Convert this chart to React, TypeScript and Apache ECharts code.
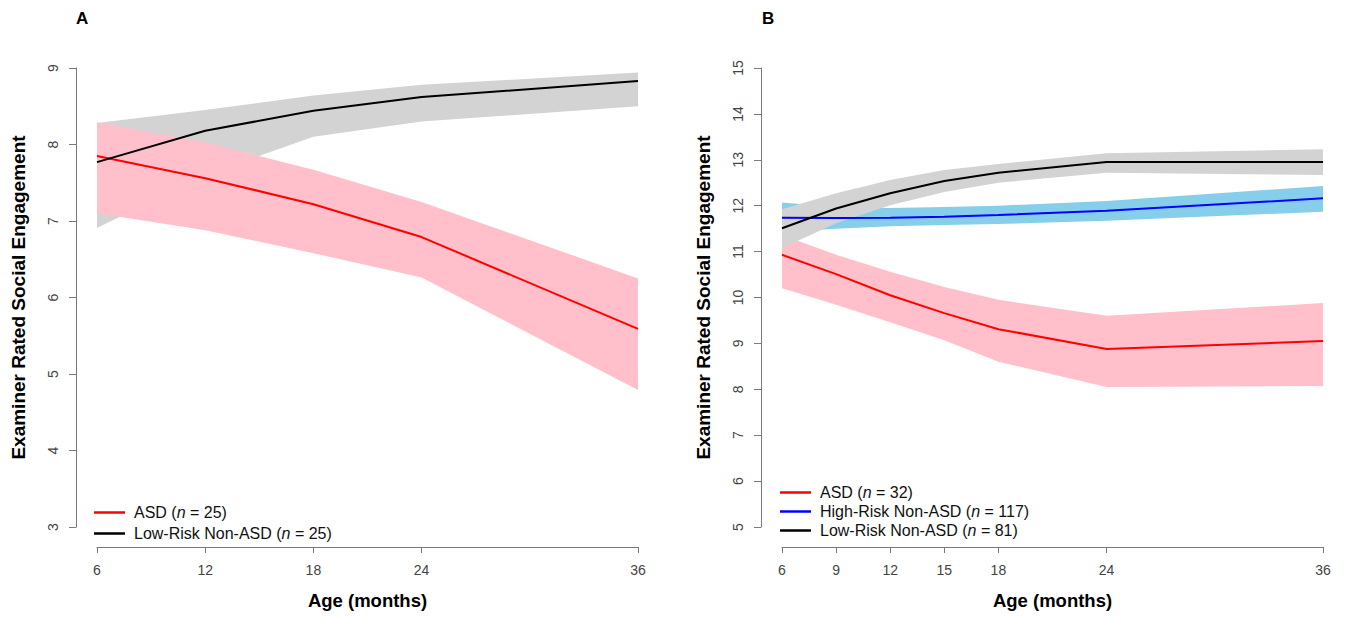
import React, { useEffect, useRef } from "react";
import * as echarts from "echarts";

// Panel A data
const xA = [6, 12, 18, 24, 36];
const asdA = [7.85, 7.56, 7.22, 6.79, 5.59];
const asdAUpper = [8.29, 8.03, 7.67, 7.25, 6.25];
const asdALower = [7.1, 6.88, 6.58, 6.26, 4.79];
const lrA = [7.77, 8.18, 8.44, 8.62, 8.83];
const lrAUpper = [8.28, 8.45, 8.64, 8.78, 8.94];
const lrALower = [6.91, 7.6, 8.1, 8.3, 8.5];
const xTicksA = [6, 12, 18, 24, 36];

// Panel B data
const xB = [6, 9, 12, 15, 18, 24, 36];
const asdB = [10.93, 10.51, 10.05, 9.66, 9.31, 8.88, 9.05];
const asdBUpper = [11.36, 10.93, 10.56, 10.23, 9.95, 9.6, 9.88];
const asdBLower = [10.2, 9.84, 9.46, 9.07, 8.6, 8.05, 8.07];
const hrB = [11.74, 11.73, 11.74, 11.76, 11.8, 11.89, 12.16];
const hrBUpper = [12.07, 11.97, 11.95, 11.97, 12.0, 12.1, 12.43];
const hrBLower = [11.42, 11.5, 11.55, 11.58, 11.6, 11.67, 11.87];
const lrB = [11.51, 11.94, 12.27, 12.54, 12.72, 12.95, 12.95];
const lrBUpper = [11.92, 12.27, 12.56, 12.78, 12.91, 13.14, 13.23];
const lrBLower = [11.08, 11.62, 12.01, 12.3, 12.5, 12.72, 12.67];
const xTicksB = [6, 9, 12, 15, 18, 24, 36];

const legendA = [
  { name: "ASD A", label: "ASD (", n: " = 25)" },
  { name: "LR A", label: "Low-Risk Non-ASD (", n: " = 25)" },
];
const legendB = [
  { name: "ASD B", label: "ASD (", n: " = 32)" },
  { name: "HR B", label: "High-Risk Non-ASD (", n: " = 117)" },
  { name: "LR B", label: "Low-Risk Non-ASD (", n: " = 81)" },
];

const FONT = "Liberation Sans, Arial, sans-serif";
const AXIS_COLOR = "#7a7a7a";
const LABEL_COLOR = "#444";

function band(xs: number[], lo: number[], hi: number[], color: string, idx: number) {
  return {
    type: "custom",
    xAxisIndex: idx,
    yAxisIndex: idx,
    silent: true,
    z: 2,
    data: [[xs[0], lo[0]]],
    renderItem: (_params: any, api: any) => {
      const pts: number[][] = [];
      xs.forEach((x, i) => pts.push(api.coord([x, hi[i]])));
      for (let i = xs.length - 1; i >= 0; i--) pts.push(api.coord([xs[i], lo[i]]));
      return { type: "polygon", shape: { points: pts }, style: { fill: color } };
    },
  };
}

function line(name: string, xs: number[], ys: number[], color: string, idx: number) {
  return {
    type: "line",
    name,
    xAxisIndex: idx,
    yAxisIndex: idx,
    z: 3,
    symbol: "none",
    silent: true,
    color,
    lineStyle: { color, width: 2 },
    data: xs.map((x, i) => [x, ys[i]]),
  };
}

function xAxis(idx: number, ticks: number[]) {
  return {
    type: "value",
    gridIndex: idx,
    min: 6,
    max: 36,
    offset: 20,
    name: "Age (months)",
    nameLocation: "middle",
    nameGap: 44,
    nameTextStyle: { fontFamily: FONT, fontWeight: "bold", fontSize: 18.5, color: "#000" },
    axisLine: { show: true, lineStyle: { color: AXIS_COLOR, width: 1 } },
    axisTick: { show: true, length: 6, customValues: ticks, lineStyle: { color: AXIS_COLOR } },
    axisLabel: { customValues: ticks, margin: 16, fontFamily: FONT, fontSize: 14, color: LABEL_COLOR },
    splitLine: { show: false },
  };
}

function yAxis(idx: number, min: number, max: number, off: number) {
  return {
    type: "value",
    gridIndex: idx,
    min,
    max,
    interval: 1,
    offset: off,
    name: "Examiner Rated Social Engagement",
    nameLocation: "middle",
    nameGap: 48,
    nameTextStyle: { fontFamily: FONT, fontWeight: "bold", fontSize: 19, color: "#000" },
    axisLine: { show: true, lineStyle: { color: AXIS_COLOR, width: 1 } },
    axisTick: { show: true, length: 7, lineStyle: { color: AXIS_COLOR } },
    axisLabel: { rotate: 90, margin: 16, fontFamily: FONT, fontSize: 14, color: LABEL_COLOR },
    splitLine: { show: false },
  };
}

function makeLegend(items: typeof legendA, left: number, top: number, lh: number) {
  const map: Record<string, string> = {};
  items.forEach((it) => {
    map[it.name] = `{sp| }{t|${it.label}}{i|n}{t|${it.n}}`;
  });
  return {
    orient: "vertical",
    left,
    top,
    icon: "rect",
    itemWidth: 31,
    itemHeight: 2.5,
    itemGap: 0,
    selectedMode: false,
    data: items.map((it) => it.name),
    formatter: (name: string) => map[name],
    textStyle: {
      fontFamily: FONT,
      fontSize: 16,
      color: "#111",
      lineHeight: lh,
      rich: {
        sp: { width: 4, fontSize: 16, lineHeight: lh },
        t: { fontFamily: FONT, fontSize: 16, color: "#111", lineHeight: lh },
        i: { fontFamily: FONT, fontSize: 16, color: "#111", fontStyle: "italic", lineHeight: lh },
      },
    },
  };
}

export default function App() {
  const ref = useRef<HTMLDivElement>(null);
  useEffect(() => {
    if (!ref.current) return;
    const chart = echarts.init(ref.current, null, { renderer: "svg" });
    chart.setOption({
      animation: false,
      backgroundColor: "#fff",
      title: [
        { text: "A", left: 71, top: 5, textStyle: { fontFamily: FONT, fontWeight: "bold", fontSize: 17, color: "#000" } },
        { text: "B", left: 757, top: 5, textStyle: { fontFamily: FONT, fontWeight: "bold", fontSize: 17, color: "#000" } },
      ],
      grid: [
        { left: 97, right: 1351 - 638, top: 68, bottom: 618 - 527 },
        { left: 782, right: 1351 - 1323, top: 68, bottom: 618 - 527 },
      ],
      xAxis: [xAxis(0, xTicksA), xAxis(1, xTicksB)],
      yAxis: [yAxis(0, 3, 9, 21), yAxis(1, 5, 15, 21)],
      legend: [makeLegend(legendA, 89, 497, 21), makeLegend(legendB, 775, 478, 19)],
      series: [
        band(xA, lrALower, lrAUpper, "#d3d3d3", 0),
        band(xA, asdALower, asdAUpper, "#ffc0cb", 0),
        line("ASD A", xA, asdA, "#ff0000", 0),
        line("LR A", xA, lrA, "#000000", 0),
        band(xB, asdBLower, asdBUpper, "#ffc0cb", 1),
        band(xB, hrBLower, hrBUpper, "#87ceeb", 1),
        band(xB, lrBLower, lrBUpper, "#d3d3d3", 1),
        line("ASD B", xB, asdB, "#ff0000", 1),
        line("HR B", xB, hrB, "#0000ff", 1),
        line("LR B", xB, lrB, "#000000", 1),
      ],
    });
    return () => chart.dispose();
  }, []);
  return (
    <div
      ref={ref}
      style={{ position: "fixed", left: 0, top: 0, width: 1351, height: 618, background: "#fff" }}
    />
  );
}
